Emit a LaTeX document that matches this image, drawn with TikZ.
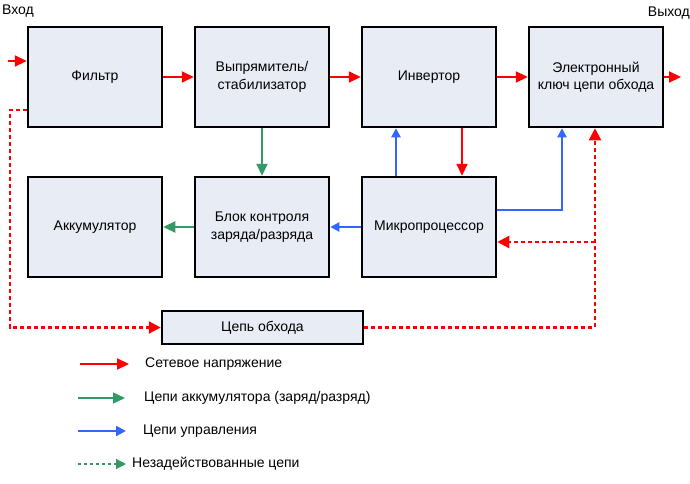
\documentclass[tikz,border=0pt]{standalone}
\usepackage{fontspec}
\setmainfont{Liberation Sans}
\usetikzlibrary{arrows.meta}

\definecolor{boxfill}{HTML}{E8ECF5}
\definecolor{mainsred}{HTML}{FF0000}
\definecolor{battgreen}{HTML}{339966}
\definecolor{ctrlblue}{HTML}{3366FF}

\begin{document}
\begin{tikzpicture}[x=1pt,y=-1pt,
  every node/.style={font=\fontsize{14}{17.5}\selectfont},
  blk/.style={rectangle,draw=black,line width=2.5pt,fill=boxfill,minimum width=134pt,minimum height=100pt,align=center,inner sep=0pt},
  redarr/.style={mainsred,line width=2.2pt,-{Triangle[length=12pt,width=11pt]}},
  greenarr/.style={battgreen,line width=2.2pt,-{Triangle[length=12pt,width=11pt]}},
  bluearr/.style={ctrlblue,line width=2.2pt,-{Triangle[length=9pt,width=9pt]}},
  dasharr/.style={mainsred,line width=2.2pt,dash pattern=on 4pt off 3pt,-{Triangle[length=12pt,width=12pt]}},
  dashline/.style={mainsred,line width=2.2pt,dash pattern=on 4pt off 3pt}]
  \useasboundingbox (0,0) rectangle (690,484);

  % top row
  \node[blk] (filter) at (95,77) {Фильтр};
  \node[blk] (rect) at (262,77) {Выпрямитель/\\стабилизатор};
  \node[blk] (inv) at (429,77) {Инвертор};
  \node[blk] (bypsw) at (596,77) {Электронный\\ключ цепи обхода};
  % bottom row
  \node[blk] (batt) at (95,227) {Аккумулятор};
  \node[blk] (chg) at (262,227) {Блок контроля\\заряда/разряда};
  \node[blk] (mcu) at (429,227) {Микропроцессор};
  \node[blk,minimum width=201pt,minimum height=33pt] (byp) at (262.5,327.5) {Цепь обхода};

  \node[anchor=west,inner sep=0pt] (inlbl) at (2,11) {Вход};
  \node[anchor=east,inner sep=0pt] (outlbl) at (690,13) {Выход};
  \coordinate (in) at (8,61);
  \coordinate (out) at (681,77);

  % mains path
  \draw[redarr] (in) -- (in -| filter.west);
  \foreach \from/\to in {filter/rect,rect/inv,inv/bypsw}
    \draw[redarr] (\from) -- (\to);
  \draw[redarr] (bypsw.east) -- (out);
  \draw[redarr] ([xshift=33pt]inv.south) -- ([xshift=33pt]mcu.north);

  % battery
  \draw[greenarr] (rect.south) -- (chg.north);
  \draw[greenarr] (chg) -- (batt);

  % control
  \draw[bluearr] ([xshift=-33pt]mcu.north) -- ([xshift=-33pt]inv.south);
  \draw[bluearr] (mcu) -- (chg);
  \draw[bluearr] ([yshift=17pt]mcu.east) -| ([xshift=-34pt]bypsw.south);

  % bypass
  \draw[dasharr] ([yshift=-33pt]filter.west) -- ++(-17,0) |- (byp.west);
  \draw[dasharr] (byp.east) -| ([xshift=-1pt]bypsw.south);
  \coordinate (tap) at (595,242);
  \draw[dasharr] (tap) -- (tap -| mcu.east);

  % legend
  \coordinate (l1a) at (80,364); \coordinate (l1b) at (129,364);
  \coordinate (l2a) at (78,398); \coordinate (l2b) at (125,398);
  \coordinate (l3a) at (78,431); \coordinate (l3b) at (126,431);
  \coordinate (l4a) at (78,464); \coordinate (l4b) at (126,464);
  \draw[redarr] (l1a) -- (l1b);
  \draw[greenarr,line width=1.5pt] (l2a) -- (l2b);
  \draw[bluearr,-{Triangle[length=10pt,width=10pt]}] (l3a) -- (l3b);
  \draw[battgreen,line width=1.2pt,dash pattern=on 3pt off 3pt,-{Triangle[length=10pt,width=10pt]}] (l4a) -- (l4b);
  \node[anchor=west,inner sep=0pt] (leg1) at (145,364) {Сетевое напряжение};
  \node[anchor=west,inner sep=0pt] (leg2) at (144,398) {Цепи аккумулятора (заряд/разряд)};
  \node[anchor=west,inner sep=0pt] (leg3) at (143,431) {Цепи управления};
  \node[anchor=west,inner sep=0pt] (leg4) at (132,464) {Незадействованные цепи};
\end{tikzpicture}
\end{document}
